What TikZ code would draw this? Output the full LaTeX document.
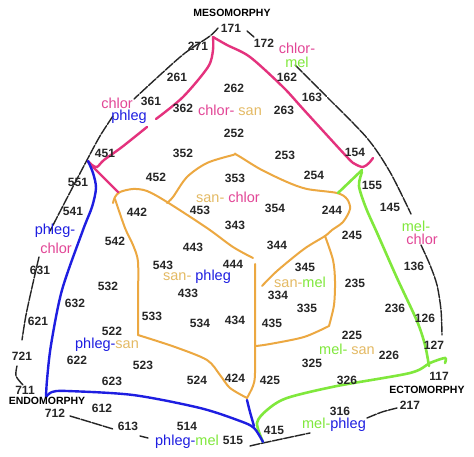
\documentclass[tikz,border=0pt]{standalone}
\usepackage{fontspec}
\setmainfont{Liberation Sans}
\definecolor{chl}{RGB}{228,50,125}
\definecolor{chlt}{RGB}{226,70,150}
\definecolor{phl}{RGB}{30,30,225}
\definecolor{sanl}{RGB}{236,168,65}
\definecolor{sant}{RGB}{228,186,100}
\definecolor{mel}{RGB}{128,232,60}
\begin{document}
\begin{tikzpicture}[x=1pt,y=-1pt,
  num/.style={font=\fontsize{12}{13}\selectfont\bfseries, inner sep=0pt, text=black!85},
  axis/.style={font=\fontsize{10.5}{11}\selectfont\bfseries, inner sep=0pt},
  word/.style={font=\fontsize{14.5}{15}\selectfont, inner sep=0pt},
  rim/.style={line width=1.4pt, black!85, dash pattern=on 10pt off 1.5pt, line cap=round},
  chline/.style={line width=2.4pt, chl, line cap=round},
  phline/.style={line width=2.4pt, phl, line cap=round},
  saline/.style={line width=2pt, sanl, line cap=round},
  meline/.style={line width=2.6pt, mel, line cap=round}]
\useasboundingbox (0,0) rectangle (474,457);
\fill[white] (0,0) rectangle (474,457);

% ---- outer rim (black)
\draw[rim] plot[smooth] coordinates {(218,28) (210,36) (185,53) (160,75) (134,99)};
\draw[rim] plot[smooth] coordinates {(113,116) (100,136) (87,160) (66,200) (50,231)};
\draw[rim] plot[smooth] coordinates {(39,257) (33,283) (26,315) (22,340)};
\draw[rim] plot[smooth] coordinates {(17,366) (16,376) (23,385)};
\draw[rim] (247,31) -- (254,37);
\draw[rim] plot[smooth] coordinates {(295,65) (327,97) (367,138) (390,172) (411,214)};
\draw[rim] plot[smooth] coordinates {(421,245) (430,265) (437,285) (441,310) (442,335)};
\draw[rim] plot[smooth] coordinates {(70,416) (90,422) (113,429)};
\draw[rim] (140,436) -- (148,438);
\draw[rim] plot[smooth] coordinates {(250,446) (263,443) (310,433)};
\draw[rim] plot[smooth] coordinates {(367,418) (382,412) (397,408)};

% ---- sanguine (orange)
\draw[saline] plot[smooth] coordinates {(113,203) (115,197) (120,192) (133,189) (147,191) (167,202) (207,228) (233,247) (253,258)};
\draw[saline] plot[smooth] coordinates {(115,199) (125,228) (133,245) (138,262) (138,300) (138,335)};
\draw[saline] plot[smooth] coordinates {(138,335) (175,347) (207,360) (220,375) (230,388) (247,398)};
\draw[saline] plot[smooth] coordinates {(247,398) (253,386) (255,373) (255,320) (255,264)};
\draw[saline] plot[smooth] coordinates {(167,203) (173,197) (187,177) (207,163) (233,155) (237,155) (260,169) (287,182) (307,189) (337,193) (347,199) (350,209) (343,222) (332,230) (325,236) (304,249) (277,271) (262,286)};
\draw[saline] plot[smooth] coordinates {(325,236) (333,260) (335,281) (334,305) (329,326)};
\draw[saline] plot[smooth] coordinates {(329,326) (304,337) (270,344) (256,346)};

% ---- choleric (pink)
\draw[chline] plot[smooth] coordinates {(213,37) (213,50) (208,67) (183,97) (156,119)};
\draw[chline] plot[smooth] coordinates {(147,127) (122,147) (104,160) (97,167) (92,165) (88,161)};
\draw[chline] plot[smooth] coordinates {(213,37) (227,45) (250,57) (283,87) (304,110) (347,157) (355,164) (363,167) (369,163) (373,158)};
\draw[chline] plot[smooth] coordinates {(88,162) (100,174) (113,187) (118,192)};

% ---- melancholic (green)
\draw[meline] (362,170) -- (338,193);
\draw[meline] plot[smooth] coordinates {(362,172) (359,186) (366,208) (378,235) (397,278) (417,321) (425,345) (429,366)};
\draw[meline] plot[smooth] coordinates {(445,363) (445,358) (430,363) (410,373) (337,386) (287,398) (267,410) (257,423) (263,442)};

% ---- phlegmatic (blue)
\draw[phline] plot[smooth] coordinates {(88,161) (93,173) (96,188) (92,207) (83,230) (62,290) (51,345) (47,380) (46,397)};
\draw[phline] plot[smooth] coordinates {(46,397) (52,392) (67,391) (133,395) (200,408) (240,421) (254,428) (263,442)};
\draw[phline] plot[smooth] coordinates {(247,400) (250,412) (254,426)};

% ---- axis names
\node[axis] (meso) at (232,13) {MESOMORPHY};
\node[axis] (endo) at (47,401) {ENDOMORPHY};
\node[axis] (ecto) at (427,390) {ECTOMORPHY};

% ---- somatotype numbers
\foreach \t/\x/\y in {171/231/28, 172/264/43, 271/198/46, 261/177/77, 361/151/101, 362/183/108,
  262/234/88, 252/234/133, 451/105/153, 352/183/153, 452/156/177, 551/78/182, 541/73/211,
  442/137/212, 453/200/210, 353/235/178, 253/285/155, 254/314/175, 354/275/208, 244/332/210,
  343/235/225, 344/277/245, 443/193/247, 543/163/265, 444/233/264, 433/188/293, 345/305/267,
  334/278/295, 335/307/308, 245/352/235, 235/355/283, 236/395/308, 136/414/266, 126/425/318,
  127/434/345, 117/439/376, 217/410/405, 316/340/411, 415/274/430, 225/352/335, 226/389/355,
  325/312/363, 326/347/380, 425/270/380, 435/272/323, 155/372/185, 145/390/207, 162/287/77,
  163/312/97, 263/284/110, 154/355/152, 542/115/241, 631/40/270, 632/75/303, 532/108/286,
  621/38/321, 522/112/331, 533/152/316, 534/200/323, 434/235/320, 721/22/356, 622/77/360,
  523/143/365, 623/112/381, 524/197/380, 424/235/378, 711/25/390, 712/55/413, 612/102/408,
  613/128/426, 514/187/426, 515/233/440}
  \node[num] (n\t) at (\x,\y) {\t};

% ---- temperament words
\node[word, text=chlt] (w1) at (117,103) {chlor};
\node[word, text=phl] (w2) at (129,117) {phleg};
\node[word] (w3) at (230,110) {\textcolor{chlt}{chlor-} \textcolor{sant}{san}};
\node[word] (w4) at (228,197) {\textcolor{sant}{san-} \textcolor{chlt}{chlor}};
\node[word, text=chlt] (w5) at (297,48) {chlor-};
\node[word, text=mel] (w6) at (297,62) {mel};
\node[word, text=mel] (w7) at (416,226) {mel-};
\node[word, text=chlt] (w8) at (422,239) {chlor};
\node[word, text=phl] (w9) at (55,231) {phleg-};
\node[word, text=chlt] (w10) at (56,248) {chlor};
\node[word] (w11) at (197,277) {\textcolor{sant}{san-} \textcolor{phl}{phleg}};
\node[word] (w12) at (300,282) {\textcolor{sant}{san-}\textcolor{mel}{mel}};
\node[word] (w13) at (107,345) {\textcolor{phl}{phleg-}\textcolor{sant}{san}};
\node[word] (w14) at (347,349) {\textcolor{mel}{mel-} \textcolor{sant}{san}};
\node[word] (w15) at (334,425) {\textcolor{mel}{mel-}\textcolor{phl}{phleg}};
\node[word] (w16) at (187,442) {\textcolor{phl}{phleg-}\textcolor{mel}{mel}};
\end{tikzpicture}
\end{document}
